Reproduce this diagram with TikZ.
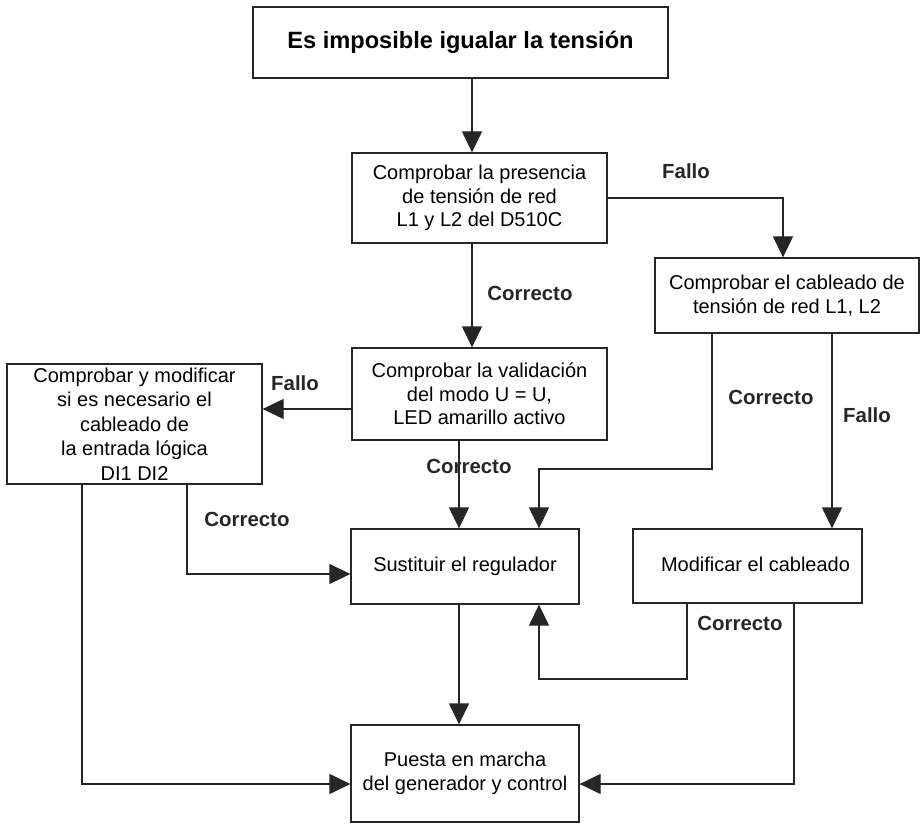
\documentclass[tikz,border=0pt]{standalone}
\usepackage{fontspec}
\setmainfont{Liberation Sans}
\usetikzlibrary{arrows.meta}
\begin{document}
\begin{tikzpicture}[x=1pt,y=-1pt,
  box/.style={draw=black!85, line width=1.3pt, fill=white, inner sep=2pt, align=center,
    font=\fontsize{20}{23.5}\selectfont},
  titlebox/.style={box, line width=2pt, font=\fontsize{23.6}{28}\selectfont\bfseries},
  arr/.style={draw=black!85, line width=1.3pt, -{Triangle[length=21pt,width=20pt]}},
  lab/.style={font=\fontsize{20.4}{23}\selectfont\bfseries, text=black!85, inner sep=0pt}]
\useasboundingbox (0,0) rectangle (922,824);
% boxes
\node[titlebox, minimum width=415pt, minimum height=71pt] (title) at (460.5,42.5) {Es imposible igualar la tensión};
\node[box, minimum width=255pt, minimum height=90pt] (b2) at (479.5,198) {Comprobar la presencia\\de tensión de red\\L1 y L2 del D510C};
\node[box, minimum width=255pt, minimum height=92pt] (b3) at (479.5,394) {Comprobar la validación\\del modo U = U,\\LED amarillo activo};
\node[box, minimum width=264pt, minimum height=75pt] (b4) at (787,295.5) {Comprobar el cableado de\\tensión de red L1, L2};
\node[box, minimum width=255pt, minimum height=120pt, font=\fontsize{20}{24.5}\selectfont] (bL) at (134.5,424) {Comprobar y modificar\\si es necesario el\\cableado de\\la entrada lógica\\DI1 DI2};
\node[box, minimum width=228pt, minimum height=75pt] (bS) at (465,566.5) {Sustituir el regulador};
\node[box, minimum width=229pt, minimum height=74pt] (bM) at (747.5,566) {\raisebox{3pt}{\hspace*{16pt}Modificar el cableado}};
\node[box, minimum width=228pt, minimum height=97pt] (bP) at (465,773.5) {Puesta en marcha\\del generador y control};
% helper coordinates
\coordinate (xa) at (472,0);
\coordinate (xb) at (783,0);
\coordinate (xs1) at (459,0);
\coordinate (xs2) at (539,0);
\coordinate (x4a) at (712,0);
\coordinate (x4b) at (832,0);
\coordinate (xLa) at (82,0);
\coordinate (xLb) at (187,0);
\coordinate (xMa) at (687,0);
\coordinate (xMb) at (794,0);
\coordinate (yF) at (0,409);
\coordinate (y4) at (0,469);
\coordinate (yS) at (0,574);
\coordinate (yM) at (0,679);
\coordinate (yP) at (0,784);
% connectors
\draw[arr] (title.south -| xa) -- (b2.north -| xa);
\draw[arr] (b2.south -| xa) -- (b3.north -| xa);
\draw[arr] (b2.east) -| (b4.north -| xb);
\draw[arr] (b3.west |- yF) -- (bL.east |- yF);
\draw[arr] (b3.south -| xs1) -- (bS.north -| xs1);
\draw[arr] (b4.south -| x4a) -- (x4a |- y4) -| (bS.north -| xs2);
\draw[arr] (b4.south -| x4b) -- (bM.north -| x4b);
\draw[arr] (bL.south -| xLb) |- (bS.west |- yS);
\draw[arr] (bL.south -| xLa) |- (bP.west |- yP);
\draw[arr] (bM.south -| xMa) -- (xMa |- yM) -| (bS.south -| xs2);
\draw[arr] (bM.south -| xMb) |- (bP.east |- yP);
\draw[arr] (bS.south -| xs1) -- (bP.north -| xs1);
% labels
\node[lab] (l1) at (686,171) {Fallo};
\node[lab] (l2) at (530,293) {Correcto};
\node[lab] (l3) at (295,383) {Fallo};
\node[lab] (l4) at (469,466) {Correcto};
\node[lab] (l5) at (771,397) {Correcto};
\node[lab] (l6) at (867,415) {Fallo};
\node[lab] (l7) at (247,519) {Correcto};
\node[lab] (l8) at (740,623) {Correcto};
\end{tikzpicture}
\end{document}
